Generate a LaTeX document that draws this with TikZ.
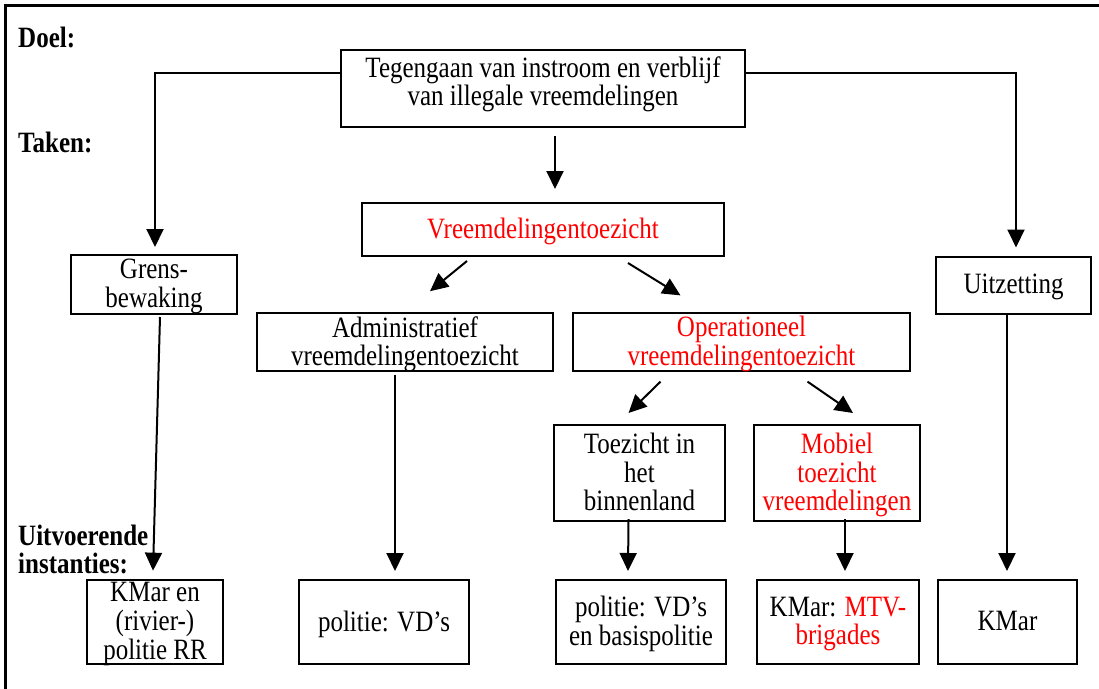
\documentclass[tikz,border=0pt]{standalone}
\usepackage{fontspec}
\usepackage{graphicx}
\setmainfont{Liberation Serif}
\usetikzlibrary{arrows.meta,calc}
\newsavebox\vtbox
\newcommand{\vtxt}[2][c]{\sbox\vtbox{\scalebox{1}[1.18]{\begin{tabular}{@{}#1@{}}#2\end{tabular}}}\raisebox{-3pt}[\ht\vtbox][\dp\vtbox]{\usebox\vtbox}}
\begin{document}
\begin{tikzpicture}[x=1pt,y=-1pt,
  box/.style={draw,line width=2pt,rectangle,align=center,inner sep=0pt,
    font=\fontsize{25}{23}\selectfont},
  lbl/.style={anchor=west,inner sep=0pt,font=\fontsize{25}{21.5}\selectfont\bfseries},
  arr/.style={line width=2pt,-{Triangle[width=17pt,length=18pt]}}]
\useasboundingbox (0,0) rectangle (1099,688);
\draw[line width=3pt] (5,700) -- (5,5) -- (1110,5);
% labels
\node[lbl] (doel) at (18,38) {\vtxt[l]{Doel:}};
\node[lbl] (taken) at (18,143) {\vtxt[l]{Taken:}};
\node[lbl] (uitv) at (18,550) {\vtxt[l]{Uitvoerende\\instanties:}};
% boxes
\node[box,minimum width=404pt,minimum height=77pt] (goal) at (543,88.5) {};
\node[inner sep=0pt,font=\fontsize{25}{23}\selectfont] (goaltxt) at (543,82) {\vtxt{Tegengaan van instroom en verblijf\\van illegale vreemdelingen}};
\node[box,minimum width=362pt,minimum height=53pt,text=red] (vreemd) at (543,229.5) {\vtxt{Vreemdelingentoezicht}};
\node[box,minimum width=166pt,minimum height=59pt] (grens) at (154,284.5) {\vtxt{Grens-\\bewaking}};
\node[box,minimum width=155pt,minimum height=57pt] (uitz) at (1013.5,285) {\vtxt{Uitzetting}};
\node[box,minimum width=296pt,minimum height=56pt] (admin) at (405,342) {\vtxt{Administratief\\vreemdelingentoezicht}};
\node[box,minimum width=337pt,minimum height=56pt,text=red] (oper) at (741.5,342) {\vtxt{Operationeel\\vreemdelingentoezicht}};
\node[box,minimum width=171pt,minimum height=96pt] (toez) at (639.5,473) {\vtxt{Toezicht in\\het\\binnenland}};
\node[box,minimum width=166pt,minimum height=96pt,text=red] (mob) at (837,473) {\vtxt{Mobiel\\toezicht\\vreemdelingen}};
\node[box,minimum width=136pt,minimum height=84pt] (kmaren) at (155,622) {\vtxt{KMar en\\(rivier-)\\politie RR}};
\node[box,minimum width=170pt,minimum height=84pt] (pvd) at (384,622) {\vtxt{politie: VD’s}};
\node[box,minimum width=170pt,minimum height=84pt] (pbasis) at (641,622) {\vtxt{politie: VD’s\\en basispolitie}};
\node[box,minimum width=162pt,minimum height=84pt] (mtv) at (838,622) {\vtxt{KMar: \textcolor{red}{MTV-}\\\textcolor{red}{brigades}}};
\node[box,minimum width=139pt,minimum height=84pt] (kmar) at (1007.5,622) {\vtxt{KMar}};
% connectors
\draw[arr] ($(goal.north west)+(0,24)$) -| ($(grens.north)+(1,-7)$);
\draw[arr] ($(goal.north east)+(0,24)$) -| ($(uitz.north)+(2.5,-8)$);
\draw[arr] ($(goal.south)+(12,8)$) -- ($(vreemd.north)+(12,-13)$);
\draw[arr] ($(vreemd.south)+(-76,4)$) -- ($(admin.north)+(25,-21)$);
\draw[arr] ($(vreemd.south)+(85,6)$) -- ($(oper.north)+(-61,-17)$);
\draw[arr] ($(grens.south)+(6,2)$) -- ($(kmaren.north)+(-2,-8)$);
\draw[arr] ($(admin.south)+(-10,3)$) -- ($(pvd.north)+(11,-8)$);
\draw[arr] ($(oper.south)+(-81,10)$) -- ($(toez.north)+(-11,-11)$);
\draw[arr] ($(oper.south)+(66,10)$) -- ($(mob.north)+(16,-11)$);
\draw[arr] ($(toez.south)+(-11,-3)$) -- ($(pbasis.north)+(-13,-8)$);
\draw[arr] ($(mob.south)+(8,-3)$) -- ($(mtv.north)+(7,-8)$);
\draw[arr] ($(uitz.south)+(-6.5,0)$) -- ($(kmar.north)+(-0.5,-8)$);
\end{tikzpicture}
\end{document}
